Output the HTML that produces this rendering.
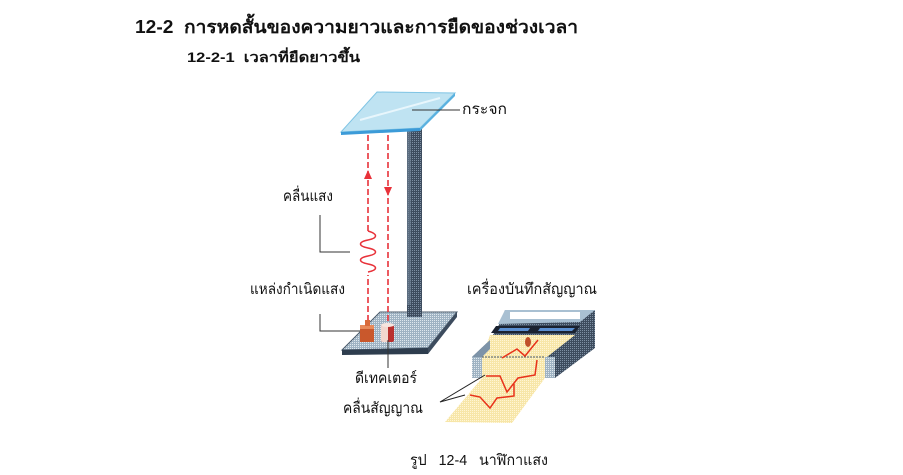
<!DOCTYPE html>
<html><head><meta charset="utf-8"><style>
html,body{margin:0;padding:0;background:#fff;}
svg{display:block;}
text{font-family:"Liberation Sans","DejaVu Sans",sans-serif;fill:#111;white-space:pre;}
</style></head><body>
<svg width="903" height="475" viewBox="0 0 903 475" xmlns="http://www.w3.org/2000/svg" xml:space="preserve">
<defs>
<pattern id="dots" width="2" height="2" patternUnits="userSpaceOnUse">
<rect width="2" height="2" fill="#3d4c5e"/><rect width="1" height="1" fill="#7d8fa3"/>
</pattern>
<pattern id="dots2" width="2" height="2" patternUnits="userSpaceOnUse">
<rect width="2" height="2" fill="#9fb3c3"/><rect width="1" height="1" fill="#dfe8ee"/>
</pattern>
<pattern id="paper" width="2" height="2" patternUnits="userSpaceOnUse">
<rect width="2" height="2" fill="#f7e6a8"/><rect width="1" height="1" fill="#fff6d6"/>
</pattern>
</defs>

<text x="135" y="33" font-size="18" font-weight="bold" textLength="443" lengthAdjust="spacingAndGlyphs">12-2  การหดสั้นของความยาวและการยืดของช่วงเวลา</text>
<text x="187" y="62" font-size="14" font-weight="bold" textLength="173" lengthAdjust="spacingAndGlyphs">12-2-1  เวลาที่ยืดยาวขึ้น</text>

<rect x="407" y="117" width="15" height="198" fill="url(#dots)"/>
<rect x="407" y="117" width="4" height="198" fill="#6f8296" opacity="0.6"/>

<polygon points="377,92 455,93 420,128 341,132" fill="#bfe3f2" stroke="#7fc4e4" stroke-width="1"/>
<polygon points="341,132 420,128 420,131 341,135" fill="#3c9bd8"/>
<polygon points="420,128 455,93 455,96 420,131" fill="#5ab1e0"/>
<line x1="360" y1="120" x2="440" y2="98" stroke="#e8f6fc" stroke-width="2"/>

<polygon points="380,312 457,312 428,348 342,350" fill="url(#dots2)" stroke="#4a5a6a" stroke-width="1"/>
<polygon points="342,350 428,348 428,354 342,355" fill="#2e3d4e"/>
<polygon points="428,348 457,312 457,317 428,354" fill="#3d4c5e"/>
<rect x="407" y="305" width="15" height="12" fill="url(#dots)"/>

<line x1="368" y1="135" x2="368" y2="322" stroke="#e8323a" stroke-width="1.6" stroke-dasharray="6,3"/>
<line x1="388" y1="135" x2="388" y2="322" stroke="#e8323a" stroke-width="1.6" stroke-dasharray="6,3"/>
<polygon points="368,170 364,179 372,179" fill="#e8323a"/>
<polygon points="388,196 384,187 392,187" fill="#e8323a"/>
<rect x="360" y="231" width="16" height="44" fill="#fff"/>
<path d="M368,231 C378,234 378,238 368,240 C358,242 358,246 368,248 C378,250 378,254 368,256 C358,258 358,262 368,264 C378,266 378,270 368,272" fill="none" stroke="#e8323a" stroke-width="1.5"/>

<rect x="360" y="325" width="14" height="17" fill="#c9582c"/>
<rect x="360" y="325" width="14" height="4" fill="#e88a5a"/>
<rect x="365" y="320" width="5" height="6" fill="#d96a3a"/>
<rect x="381" y="325" width="13" height="17" rx="2" fill="#b9302e"/>
<rect x="381" y="325" width="7" height="17" rx="2" fill="#f2d7cf"/>
<ellipse cx="387.5" cy="325" rx="6.5" ry="2" fill="#f6e6e0"/>

<polyline points="320,215 320,252 350,252" fill="none" stroke="#333" stroke-width="1"/>
<polyline points="320,314 320,331 360,331" fill="none" stroke="#333" stroke-width="1"/>
<line x1="388" y1="340" x2="388" y2="368" stroke="#333" stroke-width="1"/>
<line x1="412" y1="110" x2="460" y2="110" stroke="#333" stroke-width="1"/>

<polygon points="505,310 595,310 595,348 555,378 472,378 472,357 490,340 500,323" fill="url(#dots)"/>
<polygon points="505,310 595,310 580,322 498,324" fill="#a9c0d2"/>
<rect x="510" y="312" width="70" height="7" fill="#fff"/>
<polygon points="496,326 580,326 575,333 491,333" fill="#1a2230"/>
<polygon points="500,328 530,328 528,331 498,331" fill="#5b8fd0"/>
<polygon points="540,328 575,328 572,331 538,331" fill="#5b8fd0"/>
<polygon points="490,335 575,335 547,357 545,378 512,423 445,422 482,378 482,357" fill="url(#paper)"/>
<polygon points="472,357 482,357 490,349 490,340" fill="#7d93a8"/>
<rect x="472" y="357" width="10" height="21" fill="url(#dots2)"/>
<rect x="545" y="357" width="10" height="21" fill="url(#dots2)"/>
<line x1="482" y1="357" x2="545" y2="357" stroke="#4a5a6a" stroke-width="1" stroke-dasharray="2,1"/>
<ellipse cx="528" cy="342" rx="3" ry="5" fill="#c0502a"/>
<polyline points="502,358 517,349 525,356 538,340" fill="none" stroke="#e8321a" stroke-width="1.5"/>
<polyline points="486,376 500,376 507,392 518,378 535,375 537,360" fill="none" stroke="#e8321a" stroke-width="1.5"/>
<polyline points="470,395 480,397 490,408 497,398 514,396 514,384" fill="none" stroke="#e8321a" stroke-width="1.5"/>
<polyline points="485,375 440,402 465,395" fill="none" stroke="#222" stroke-width="1"/>

<text x="462" y="114" font-size="15" textLength="45" lengthAdjust="spacingAndGlyphs">กระจก</text>
<text x="283" y="201" font-size="15" textLength="50" lengthAdjust="spacingAndGlyphs">คลื่นแสง</text>
<text x="250" y="294" font-size="15" textLength="95" lengthAdjust="spacingAndGlyphs">แหล่งกำเนิดแสง</text>
<text x="467" y="294" font-size="15" textLength="130" lengthAdjust="spacingAndGlyphs">เครื่องบันทึกสัญญาณ</text>
<text x="355" y="383" font-size="15" textLength="62" lengthAdjust="spacingAndGlyphs">ดีเทคเตอร์</text>
<text x="343" y="413" font-size="15" textLength="80" lengthAdjust="spacingAndGlyphs">คลื่นสัญญาณ</text>
<text x="410" y="465" font-size="15" textLength="138" lengthAdjust="spacingAndGlyphs">รูป   12-4   นาฬิกาแสง</text>
</svg>
</body></html>
